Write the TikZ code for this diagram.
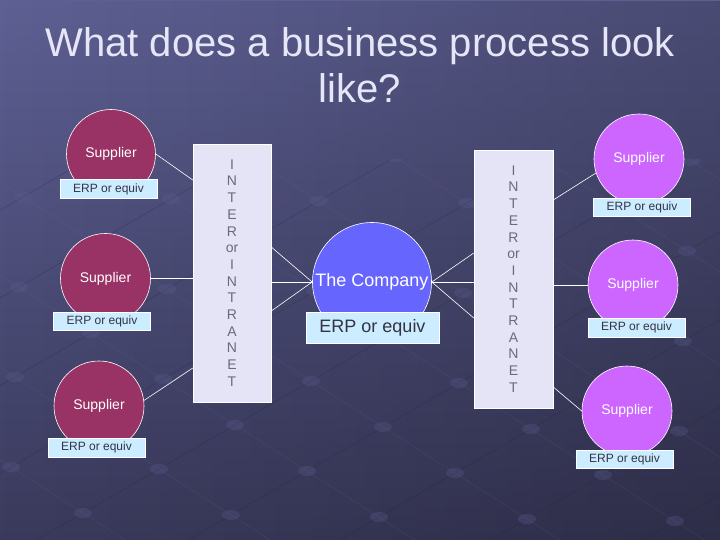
\documentclass[tikz,border=0pt]{standalone}
\usepackage{fontspec}
\setmainfont{Liberation Sans}
\usetikzlibrary{fadings}
\definecolor{bgtop}{HTML}{5E6094}
\definecolor{bgbot}{HTML}{3A3A5C}
\definecolor{gridlight}{HTML}{7A7CAE}
\definecolor{griddark}{HTML}{24243A}
\definecolor{griddot}{HTML}{5C5E90}
\definecolor{supleft}{HTML}{993366}
\definecolor{supright}{HTML}{CC66FF}
\definecolor{companyfill}{HTML}{6666FF}
\definecolor{erpfill}{HTML}{CCECFF}
\definecolor{erptext}{HTML}{333344}
\definecolor{netfill}{HTML}{E4E4F6}
\definecolor{nettext}{HTML}{6A6A78}
\definecolor{titlecol}{HTML}{E6E6F8}
\begin{document}
\begin{tikzpicture}[x=1pt,y=-1pt,
  sup/.style={circle,draw=white,line width=0.6pt,minimum size=90pt,inner sep=0pt,text=white,font=\fontsize{14}{16}\selectfont},
  supL/.style={sup,fill=supleft},
  supR/.style={sup,fill=supright},
  company/.style={sup,fill=companyfill,minimum size=119pt,font=\fontsize{18}{20}\selectfont},
  erp/.style={rectangle,draw=white,line width=0.5pt,fill=erpfill,text=erptext,inner sep=0pt,minimum width=97pt,minimum height=18.5pt,font=\fontsize{12}{14}\selectfont},
  net/.style={rectangle,draw=white,line width=0.5pt,fill=netfill,text=nettext,inner sep=0pt,align=center,font=\fontsize{14}{16.7}\selectfont},
  wire/.style={draw=white,line width=0.6pt},
  title/.style={text=titlecol,inner sep=0pt,font=\fontsize{40}{46}\selectfont},
  gdark/.style={draw=griddark,line width=0.9pt,opacity=0.22},
  glight/.style={draw=gridlight,line width=0.6pt,opacity=0.14},
  gdot/.style={fill=griddot,opacity=0.3}]
\useasboundingbox (0,0) rectangle (720,540);
\shade[top color=bgtop,bottom color=bgbot] (0,0) rectangle (720,540);
\fill[black,opacity=0.22,path fading=west] (0,0) rectangle (720,540);

% faint background grid
\begin{scope}
\clip (0,160) rectangle (720,540);
\begin{scope}[shift={(235,425)},x={(76pt,44pt)},y={(72pt,-46pt)}]
\foreach \j in {-8,...,8} {\draw[glight] (\j,-9) -- (\j,9);}
\foreach \j in {-8,...,8} {\draw[gdark] (-9,\j) -- (9,\j);}
\foreach \i in {-7,...,7} {\foreach \j in {-7,...,7} {
  \fill[gdot] (\i,\j) ellipse [x radius=9pt,y radius=5pt];}}
\end{scope}
\end{scope}

% title
\node[title,anchor=base] (t1) at (360,57) {What does a business process look};
\node[title,anchor=base] (t2) at (360,103) {like?};

% left suppliers
\node[supL,minimum size=89pt] (s1) at (111,154) {Supplier};
\node[supL] (s2) at (105.5,278.5) {Supplier};
\node[supL] (s3) at (99,406) {Supplier};
% right suppliers
\node[supR] (r1) at (639,159) {Supplier};
\node[supR] (r2) at (633,285) {Supplier};
\node[supR] (r3) at (627,411) {Supplier};
% company
\node[company] (co) at (372,282) {The Company};

% ERP boxes
\node[erp] (e1) at (108.5,189) {ERP or equiv};
\node[erp] (e2) at (102,321) {ERP or equiv};
\node[erp] (e3) at (96.5,447.5) {ERP or equiv};
\node[erp] (f1) at (642,207.5) {ERP or equiv};
\node[erp] (f2) at (636.5,327.5) {ERP or equiv};
\node[erp] (f3) at (624.5,459) {ERP or equiv};
\node[erp,minimum width=133pt,minimum height=31pt,font=\fontsize{18}{20}\selectfont] (ce) at (372.5,327.5) {ERP or equiv};

% inter/intranet boxes
\node[net,minimum width=78pt,minimum height=258pt] (nL) at (232,273) {I\\N\\T\\E\\R\\or\\I\\N\\T\\R\\A\\N\\E\\T};
\node[net,minimum width=79pt,minimum height=258pt] (nR) at (513.5,279) {I\\N\\T\\E\\R\\or\\I\\N\\T\\R\\A\\N\\E\\T};

% connector end points on the boxes
\coordinate (a1) at (nL.west |- 0,180);
\coordinate (a3) at (nL.west |- 0,368);
\coordinate (b1) at (nL.east |- 0,247);
\coordinate (b2) at (nL.east |- co.west);
\coordinate (b3) at (nL.east |- 0,311);
\coordinate (c1) at (nR.west |- 0,253);
\coordinate (c2) at (nR.west |- co.east);
\coordinate (c3) at (nR.west |- 0,318);
\coordinate (d1) at (nR.east |- 0,200);
\coordinate (d3) at (nR.east |- 0,387);

% connectors
\draw[wire] (s1.east) -- (a1);
\draw[wire] (s2.east) -- (s2.east -| nL.west);
\draw[wire] (s3.7) -- (a3);
\draw[wire] (b1) -- (co.west);
\draw[wire] (b2) -- (co.west);
\draw[wire] (b3) -- (co.west);
\draw[wire] (co.east) -- (c1);
\draw[wire] (co.east) -- (c2);
\draw[wire] (co.east) -- (c3);
\draw[wire] (d1) -- (r1.198);
\draw[wire] (r2.west -| nR.east) -- (r2.west);
\draw[wire] (d3) -- (r3.west);
\end{tikzpicture}
\end{document}
